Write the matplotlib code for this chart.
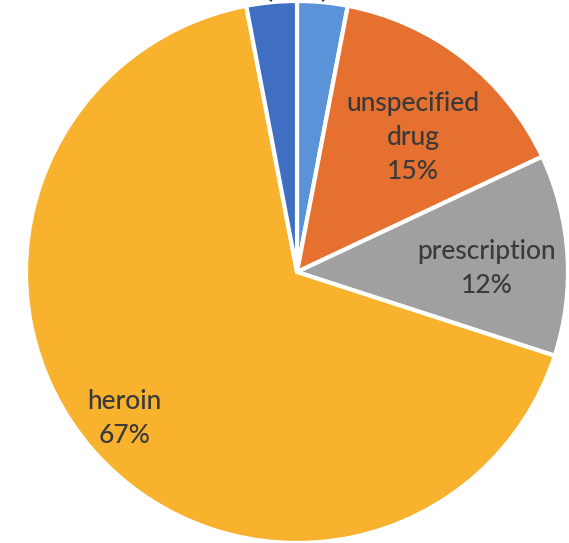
import numpy as np
import matplotlib.pyplot as plt

plt.rcParams["font.family"] = ["Lato", "DejaVu Sans"]

# slices clockwise from 12 o'clock
categories = ["other", "unspecified\ndrug", "prescription", "heroin", "other opioid"]
shares = [3, 15, 12, 67, 3]
colors = ["#5A93D8", "#E5702F", "#A0A0A0", "#F8B22E", "#3F6EC2"]
show_label = [False, True, True, True, False]
# label placement: fraction of radius, and clockwise nudge from mid angle (deg)
label_dist = [0.0, 0.657, 0.70, 0.833, 0.0]
label_nudge = [0.0, 2.9, 2.4, 1.1, 0.0]

fig = plt.figure(figsize=(5.69, 5.43), dpi=100)
ax = fig.add_axes([0, 0, 1, 1])

wedges, _ = ax.pie(shares, colors=colors, startangle=90, counterclock=False,
                   radius=1.0, wedgeprops=dict(edgecolor="white", linewidth=3))

for w, cat, v, show, d, nd in zip(wedges, categories, shares, show_label,
                                  label_dist, label_nudge):
    mid = np.deg2rad((w.theta1 + w.theta2) / 2 - nd)
    if show:
        ax.text(d * np.cos(mid), d * np.sin(mid), f"{cat}\n{v}%",
                ha="center", va="center", fontsize=19, color="#3a3a3a",
                fontweight="medium", linespacing=1.45)
    else:
        # leader lines to labels outside the cropped area
        ax.plot([1.005 * np.cos(mid), 1.1 * np.cos(mid - 0.12 * np.sign(np.cos(mid)))],
                [1.005 * np.sin(mid), 1.1 * np.sin(mid)],
                color="#222222", lw=1)

r_px = 271
cx, cy = 297, 272
ax.set_xlim(-cx / r_px, (569 - cx) / r_px)
ax.set_ylim((cy - 543) / r_px, cy / r_px)
ax.set_aspect("auto")
ax.axis("off")

fig.savefig("out.png", dpi=100, facecolor="white")
